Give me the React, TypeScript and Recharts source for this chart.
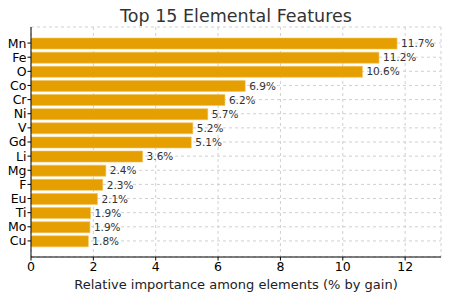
import { BarChart, Bar, XAxis, YAxis, CartesianGrid, LabelList } from 'recharts';

const elements = ['Mn', 'Fe', 'O', 'Co', 'Cr', 'Ni', 'V', 'Gd', 'Li', 'Mg', 'F', 'Eu', 'Ti', 'Mo', 'Cu'];
const importance = [11.74, 11.16, 10.63, 6.87, 6.22, 5.67, 5.19, 5.14, 3.58, 2.4, 2.3, 2.13, 1.91, 1.89, 1.84];
const xTicks = [0, 2, 4, 6, 8, 10, 12];

const data = elements.map((el, i) => ({ el, value: importance[i] }));

const FONT = '"DejaVu Sans", sans-serif';

export default function App() {
    return (
        <div style={{ position: 'absolute', left: 0, top: 0, width: 449, height: 299, background: '#fff', fontFamily: FONT }}>
            <BarChart
                width={449}
                height={299}
                data={data}
                layout="vertical"
                margin={{ top: 27, right: 8, left: 0, bottom: 22 }}
            >
                <text x={236} y={22} textAnchor="middle" fontSize={17.5} fill="#333" fontFamily={FONT}>
                    Top 15 Elemental Features
                </text>
                <CartesianGrid strokeDasharray="3 3" stroke="#d0d0d0" />
                <XAxis
                    type="number"
                    domain={[0, 13.15]}
                    ticks={xTicks}
                    allowDataOverflow
                    tick={{ fill: '#000', fontSize: 12.5, fontFamily: FONT }}
                    tickSize={3.5}
                    axisLine={{ stroke: '#000' }}
                    tickLine={{ stroke: '#000' }}
                    height={20}
                    label={{
                        value: 'Relative importance among elements (% by gain)',
                        position: 'insideBottom',
                        offset: -12,
                        fill: '#222',
                        fontSize: 13,
                        fontFamily: FONT,
                    }}
                />
                <YAxis
                    type="category"
                    dataKey="el"
                    width={31}
                    interval={0}
                    padding={{ top: 9, bottom: 9 }}
                    tick={{ fill: '#000', fontSize: 12.5, fontFamily: FONT }}
                    tickSize={3.5}
                    tickMargin={1}
                    axisLine={{ stroke: '#000' }}
                    tickLine={{ stroke: '#000' }}
                />
                <Bar dataKey="value" fill="#E69F00" stroke="#F2C35A" strokeWidth={0.6} barSize={11} isAnimationActive={false}>
                    <LabelList
                        dataKey="value"
                        position="right"
                        offset={4}
                        formatter={(v: any) => `${Number(v).toFixed(1)}%`}
                        style={{ fill: '#333', fontSize: 10.5, fontFamily: FONT }}
                    />
                </Bar>
            </BarChart>
        </div>
    );
}
